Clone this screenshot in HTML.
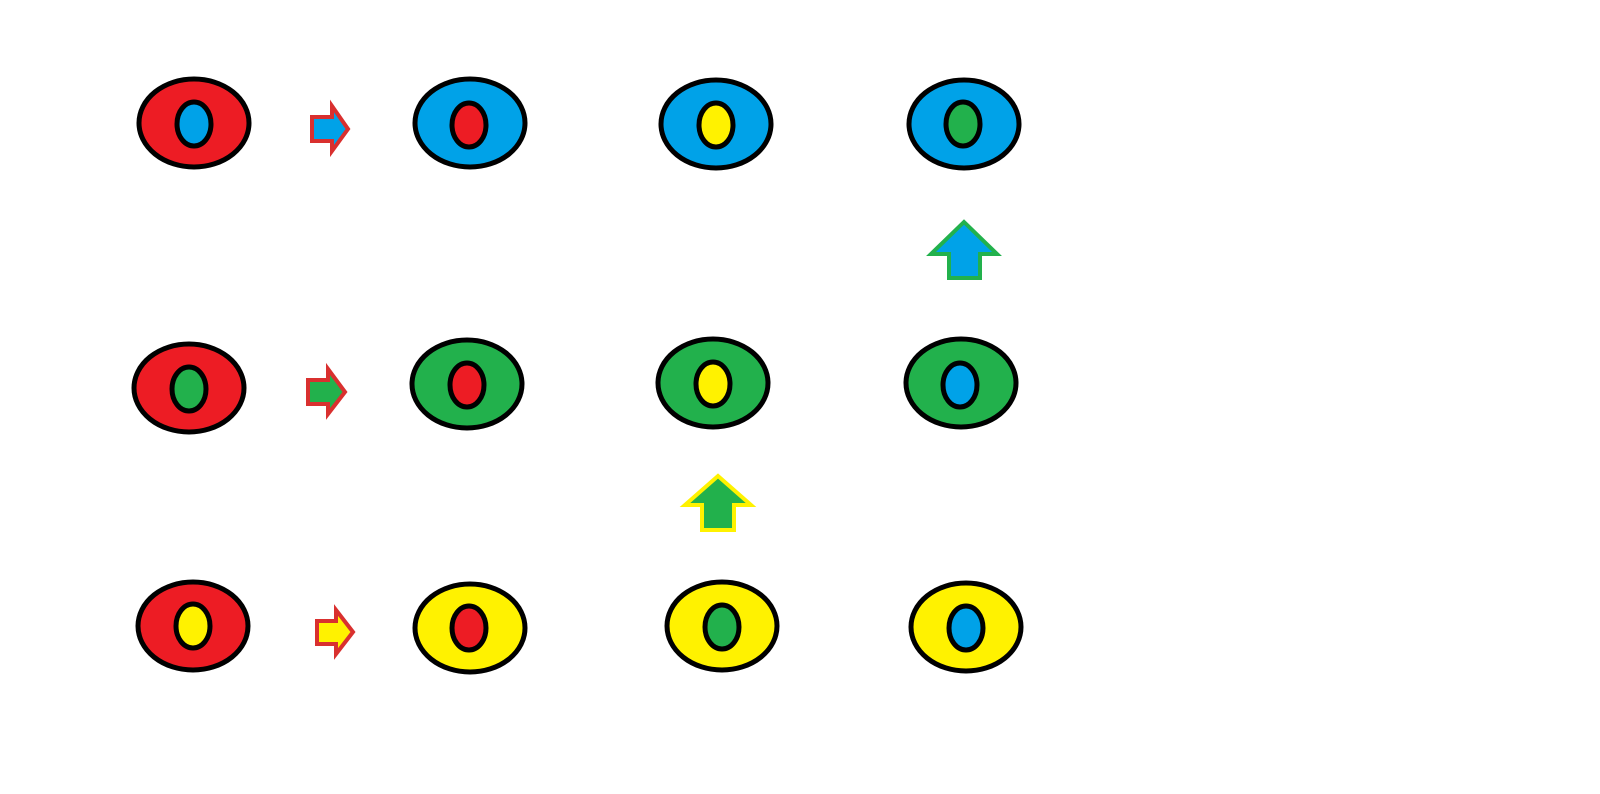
<!DOCTYPE html>
<html><head><style>html,body{margin:0;padding:0;background:#fff;}svg{display:block}</style></head>
<body>
<svg width="1600" height="794" viewBox="0 0 1600 794" xmlns="http://www.w3.org/2000/svg">
<g stroke="#000" stroke-width="5">
<ellipse cx="194" cy="123" rx="55" ry="44" fill="#ed1c24"/><ellipse cx="194" cy="124" rx="17" ry="22" fill="#00a2e8"/>
<ellipse cx="470" cy="123" rx="55" ry="44" fill="#00a2e8"/><ellipse cx="469" cy="125" rx="17" ry="22" fill="#ed1c24"/>
<ellipse cx="716" cy="124" rx="55" ry="44" fill="#00a2e8"/><ellipse cx="716" cy="125" rx="17" ry="22" fill="#fff200"/>
<ellipse cx="964" cy="124" rx="55" ry="44" fill="#00a2e8"/><ellipse cx="963" cy="124" rx="17" ry="22" fill="#22b14c"/>
<ellipse cx="189" cy="388" rx="55" ry="44" fill="#ed1c24"/><ellipse cx="189" cy="389" rx="17" ry="22" fill="#22b14c"/>
<ellipse cx="467" cy="384" rx="55" ry="44" fill="#22b14c"/><ellipse cx="467" cy="385" rx="17" ry="22" fill="#ed1c24"/>
<ellipse cx="713" cy="383" rx="55" ry="44" fill="#22b14c"/><ellipse cx="713" cy="384" rx="17" ry="22" fill="#fff200"/>
<ellipse cx="961" cy="383" rx="55" ry="44" fill="#22b14c"/><ellipse cx="960" cy="385" rx="17" ry="22" fill="#00a2e8"/>
<ellipse cx="193" cy="626" rx="55" ry="44" fill="#ed1c24"/><ellipse cx="193" cy="626" rx="17" ry="22" fill="#fff200"/>
<ellipse cx="470" cy="628" rx="55" ry="44" fill="#fff200"/><ellipse cx="469" cy="628" rx="17" ry="22" fill="#ed1c24"/>
<ellipse cx="722" cy="626" rx="55" ry="44" fill="#fff200"/><ellipse cx="722" cy="627" rx="17" ry="22" fill="#22b14c"/>
<ellipse cx="966" cy="627" rx="55" ry="44" fill="#fff200"/><ellipse cx="966" cy="628" rx="17" ry="22" fill="#00a2e8"/>
</g>
<g stroke-width="4" stroke-linejoin="miter">
<polygon points="312,117 332,117 332,106 348,129 332,151 332,141 312,141" fill="#00a2e8" stroke="#d9302f"/>
<polygon points="308,380 328,380 328,369 345,392 328,414 328,404 308,404" fill="#22b14c" stroke="#d9302f"/>
<polygon points="317,621 336,621 336,610 353,632 336,654 336,644 317,644" fill="#fff200" stroke="#d9302f"/>
<polygon points="949,278 980,278 980,254 997,254 964,222 931,254 949,254" fill="#00a2e8" stroke="#22b14c"/>
<polygon points="702,530 734,530 734,505 751,505 718,476 685,505 702,505" fill="#22b14c" stroke="#fff200"/>
</g>
</svg>
</body></html>
